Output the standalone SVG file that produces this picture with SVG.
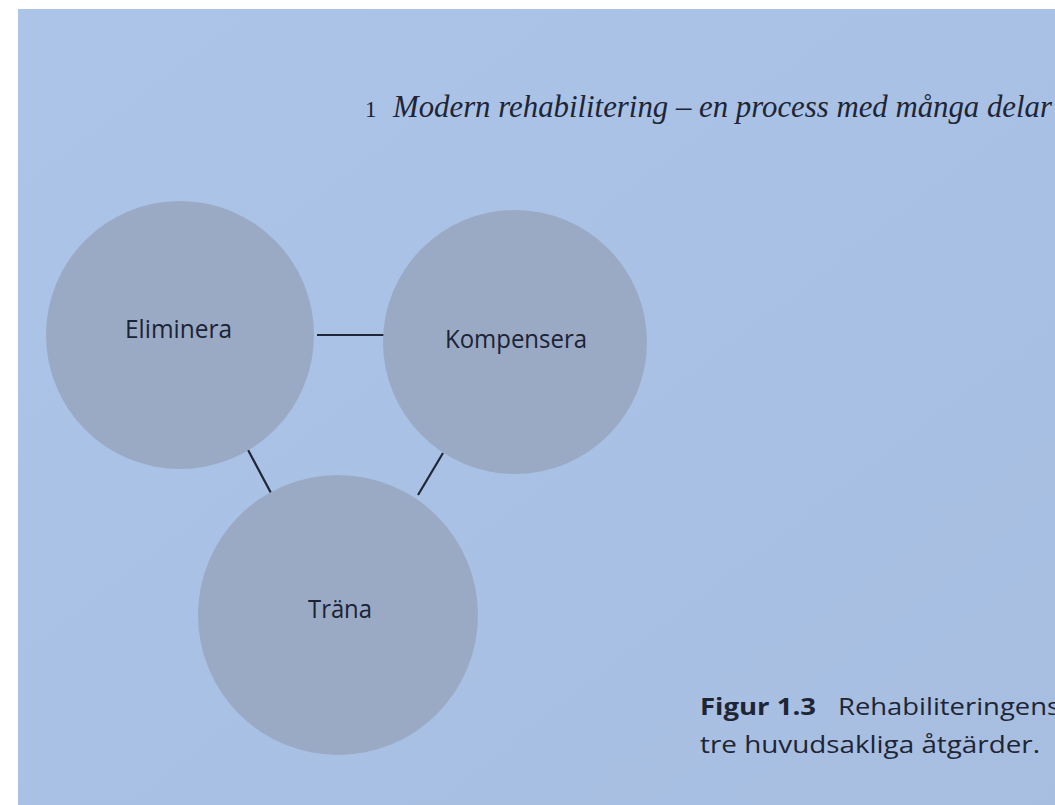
<svg xmlns="http://www.w3.org/2000/svg" width="1055" height="805" viewBox="0 0 1055 805">
  <style>
    .node { fill: #9aaac4; }
    .label { font-family: "Open Sans", "Noto Sans", sans-serif; font-size: 25px; fill: #1b2336; text-anchor: middle; }
    .conn { stroke: #1f2636; stroke-width: 2.2; fill: none; }
    .header { font-family: "Liberation Serif", serif; fill: #1e2535; }
    .caption { font-family: "Open Sans", "Noto Sans", sans-serif; font-size: 24px; fill: #1e2535; }
  </style>
  <defs>
    <linearGradient id="paper" x1="0" y1="0" x2="1" y2="1">
      <stop offset="0" stop-color="#abc4e7"/>
      <stop offset="1" stop-color="#a7bee1"/>
    </linearGradient>
  </defs>
  <rect x="0" y="0" width="1055" height="805" fill="#ffffff"/>
  <rect x="18" y="9" width="1037" height="796" fill="url(#paper)"/>

  <g id="header">
    <text class="header" x="365" y="117" font-size="23">1</text>
    <text class="header" x="393" y="117" font-size="30.5" font-style="italic" textLength="659" lengthAdjust="spacingAndGlyphs">Modern rehabilitering – en process med många delar</text>
  </g>

  <g id="connectors">
    <line class="conn" x1="317" y1="335" x2="384" y2="335"/>
    <line class="conn" x1="247" y1="448" x2="271" y2="493"/>
    <line class="conn" x1="443" y1="453" x2="418" y2="495"/>
  </g>

  <g id="node-eliminera">
    <circle class="node" cx="180" cy="335" r="134"/>
    <text class="label" x="178.5" y="338" textLength="107" lengthAdjust="spacingAndGlyphs">Eliminera</text>
  </g>
  <g id="node-kompensera">
    <circle class="node" cx="515" cy="342" r="132"/>
    <text class="label" x="516" y="348" font-size="26" textLength="142" lengthAdjust="spacingAndGlyphs">Kompensera</text>
  </g>
  <g id="node-trana">
    <circle class="node" cx="338" cy="615" r="140"/>
    <text class="label" x="340" y="618" textLength="64" lengthAdjust="spacingAndGlyphs">Träna</text>
  </g>

  <g id="caption">
    <text class="caption" x="700" y="715" font-weight="bold" textLength="116" lengthAdjust="spacingAndGlyphs">Figur 1.3</text>
    <text class="caption" x="838" y="715" textLength="222" lengthAdjust="spacingAndGlyphs">Rehabiliteringens</text>
    <text class="caption" x="700" y="753" textLength="340" lengthAdjust="spacingAndGlyphs">tre huvudsakliga åtgärder.</text>
  </g>
</svg>
